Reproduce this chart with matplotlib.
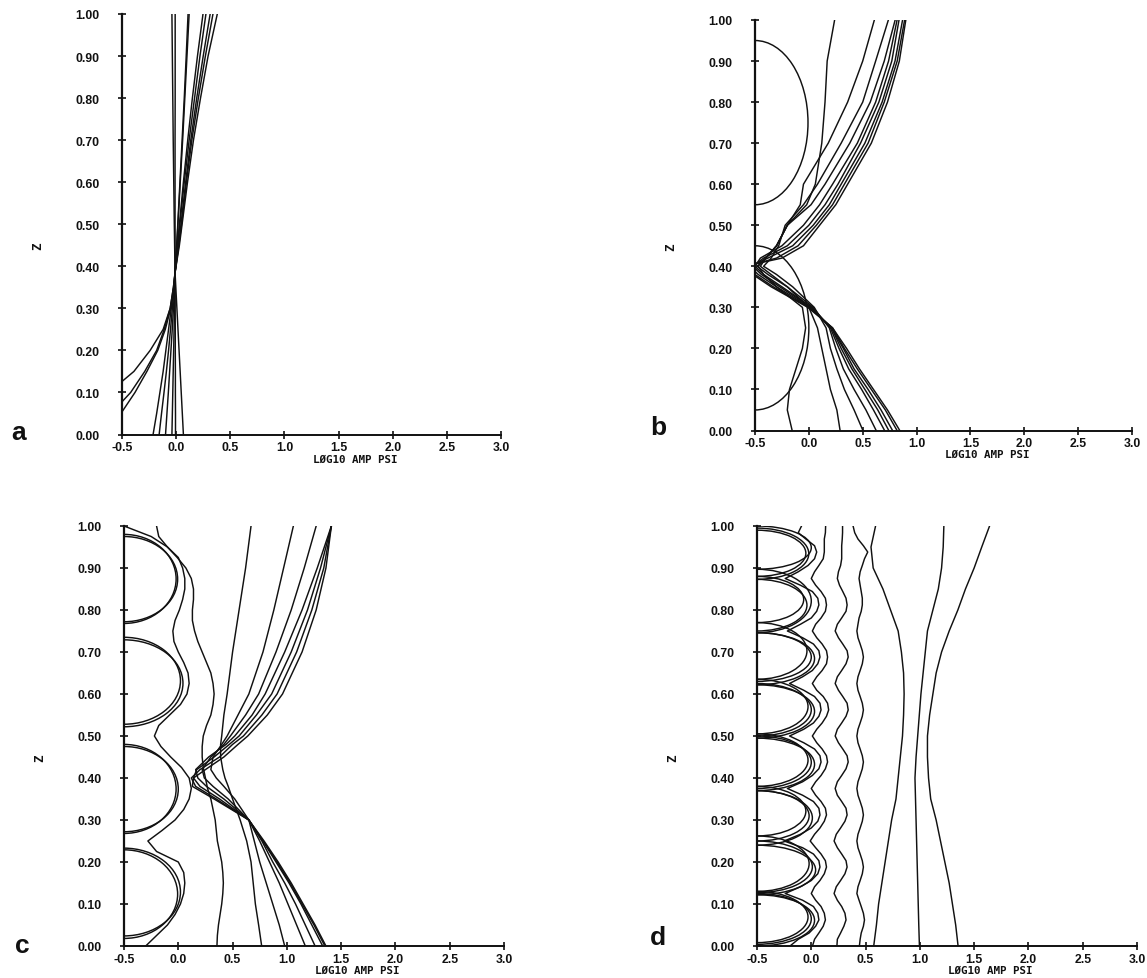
import matplotlib
matplotlib.use("Agg")
import matplotlib.pyplot as plt
from matplotlib.patches import Arc

# ---------------- data ----------------
XTICKS = [-0.5, 0.0, 0.5, 1.0, 1.5, 2.0, 2.5, 3.0]
XTICKLABELS = ["-0.5", "0.0", "0.5", "1.0", "1.5", "2.0", "2.5", "3.0"]
YTICKS = [0.0, 0.1, 0.2, 0.3, 0.4, 0.5, 0.6, 0.7, 0.8, 0.9, 1.0]
YTICKLABELS = ["0.00", "0.10", "0.20", "0.30", "0.40", "0.50", "0.60", "0.70", "0.80", "0.90", "1.00"]
XLABEL = "LØG10 AMP PSI"
YLABEL = "Z"
PANEL_LETTERS = ["a", "b", "c", "d"]

# panel a : x (log10 amp) at the z levels ZA
ZA = [0.0, 0.05, 0.1, 0.15, 0.2, 0.25, 0.3, 0.35, 0.385, 0.45, 0.5, 0.6, 0.7, 0.8, 0.9, 1.0]
A_CURVES = [
    [-1.0, -0.8, -0.62, -0.39, -0.24, -0.12, -0.055, -0.025, -0.01, 0.03, 0.055, 0.105, 0.16, 0.225, 0.295, 0.38],
    [-0.8, -0.6, -0.42, -0.29, -0.18, -0.11, -0.055, -0.025, -0.01, 0.025, 0.05, 0.095, 0.145, 0.205, 0.27, 0.34],
    [-0.65, -0.51, -0.38, -0.27, -0.17, -0.1, -0.05, -0.02, -0.01, 0.022, 0.045, 0.088, 0.135, 0.19, 0.25, 0.314],
    [-0.213, -0.18, -0.15, -0.12, -0.095, -0.07, -0.045, -0.022, -0.01, 0.015, 0.035, 0.075, 0.12, 0.17, 0.22, 0.275],
    [-0.157, -0.135, -0.112, -0.09, -0.07, -0.052, -0.035, -0.018, -0.01, 0.012, 0.03, 0.067, 0.107, 0.15, 0.197, 0.248],
    [-0.098, -0.085, -0.072, -0.06, -0.048, -0.036, -0.025, -0.014, -0.01, 0.005, 0.017, 0.038, 0.06, 0.08, 0.1, 0.12],
    [-0.039, -0.035, -0.031, -0.027, -0.023, -0.019, -0.015, -0.012, -0.01, 0.005, 0.015, 0.035, 0.055, 0.075, 0.093, 0.11],
    [0.067, 0.057, 0.047, 0.037, 0.027, 0.017, 0.007, -0.003, -0.01, -0.014, -0.017, -0.022, -0.027, -0.031, -0.035, -0.039],
    [-0.006, -0.006, -0.007, -0.007, -0.008, -0.008, -0.009, -0.009, -0.01, -0.01, -0.01, -0.01, -0.01, -0.009, -0.009, -0.009],
]

# panel b
ZB = [0.0, 0.05, 0.1, 0.15, 0.2, 0.25, 0.3, 0.35, 0.38, 0.4, 0.42, 0.45, 0.5, 0.55, 0.6, 0.7, 0.8, 0.9, 1.0]
B_CURVES = [
    [0.29, 0.26, 0.2, 0.16, 0.12, 0.08, 0.0, -0.2, -0.35, -0.45, -0.4, -0.3, -0.2, -0.08, -0.05, 0.18, 0.36, 0.5, 0.608],
    [0.502, 0.42, 0.33, 0.26, 0.2, 0.16, 0.05, -0.15, -0.3, -0.42, -0.35, -0.28, -0.22, -0.05, 0.08, 0.3, 0.5, 0.62, 0.738],
    [0.625, 0.53, 0.42, 0.32, 0.25, 0.19, 0.04, -0.2, -0.38, -0.48, -0.4, -0.3, -0.2, 0.02, 0.15, 0.38, 0.57, 0.7, 0.801],
    [0.703, 0.6, 0.49, 0.37, 0.28, 0.2, 0.03, -0.25, -0.42, -0.5, -0.45, -0.25, -0.05, 0.1, 0.22, 0.45, 0.62, 0.74, 0.819],
    [0.742, 0.64, 0.52, 0.4, 0.3, 0.21, 0.02, -0.27, -0.44, -0.52, -0.42, -0.2, 0.0, 0.15, 0.27, 0.48, 0.65, 0.77, 0.837],
    [0.777, 0.67, 0.55, 0.42, 0.32, 0.21, 0.01, -0.3, -0.47, -0.55, -0.38, -0.15, 0.04, 0.19, 0.3, 0.52, 0.68, 0.8, 0.87],
    [0.819, 0.71, 0.58, 0.45, 0.33, 0.22, 0.0, -0.33, -0.5, -0.58, -0.3, -0.1, 0.07, 0.22, 0.33, 0.55, 0.7, 0.82, 0.889],
    [0.844, 0.73, 0.6, 0.47, 0.35, 0.22, -0.01, -0.35, -0.52, -0.6, -0.25, -0.05, 0.1, 0.25, 0.36, 0.58, 0.73, 0.84, 0.9],
    [-0.155, -0.2, -0.18, -0.12, -0.06, -0.03, -0.06, -0.3, -0.42, -0.47, -0.4, -0.3, -0.2, -0.02, 0.06, 0.12, 0.15, 0.17, 0.239],
]
# half-circle loops on the left axis: lower z, upper z, right-most x
B_LOOP_LO = [0.05, 0.55]
B_LOOP_HI = [0.45, 0.95]
B_LOOP_PEAK = [0.0, -0.008]

# panel c
ZC = [0.0, 0.05, 0.1, 0.15, 0.2, 0.25, 0.3, 0.35, 0.38, 0.4, 0.42, 0.45, 0.48, 0.5, 0.55, 0.6, 0.7, 0.8, 0.9, 1.0]
C_CURVES = [
    [0.768, 0.74, 0.71, 0.69, 0.67, 0.63, 0.57, 0.5, 0.46, 0.43, 0.41, 0.39, 0.39, 0.4, 0.42, 0.45, 0.5, 0.56, 0.62, 0.67],
    [0.98, 0.93, 0.87, 0.81, 0.75, 0.7, 0.65, 0.52, 0.42, 0.35, 0.3, 0.32, 0.4, 0.45, 0.55, 0.65, 0.78, 0.88, 0.97, 1.06],
    [1.17, 1.09, 1.01, 0.93, 0.84, 0.75, 0.65, 0.46, 0.32, 0.24, 0.22, 0.3, 0.42, 0.48, 0.62, 0.74, 0.9, 1.04, 1.16, 1.27],
    [1.26, 1.17, 1.08, 0.98, 0.87, 0.77, 0.65, 0.42, 0.26, 0.18, 0.16, 0.28, 0.44, 0.52, 0.68, 0.8, 0.98, 1.14, 1.28, 1.41],
    [1.33, 1.23, 1.13, 1.02, 0.9, 0.78, 0.65, 0.38, 0.2, 0.14, 0.17, 0.33, 0.47, 0.56, 0.72, 0.86, 1.04, 1.19, 1.31, 1.41],
    [1.36, 1.26, 1.15, 1.04, 0.92, 0.79, 0.65, 0.35, 0.16, 0.12, 0.2, 0.38, 0.5, 0.6, 0.77, 0.91, 1.09, 1.23, 1.34, 1.41],
    [1.35, 1.25, 1.14, 1.03, 0.91, 0.78, 0.65, 0.33, 0.13, 0.14, 0.25, 0.42, 0.55, 0.64, 0.82, 0.96, 1.14, 1.27, 1.36, 1.41],
]
ZCW = [0.0, 0.025, 0.05, 0.075, 0.1, 0.125, 0.15, 0.175, 0.2, 0.225, 0.25, 0.275, 0.3, 0.325,
       0.35, 0.375, 0.4, 0.425, 0.45, 0.475, 0.5, 0.525, 0.55, 0.575, 0.6, 0.625, 0.65, 0.675,
       0.7, 0.725, 0.75, 0.775, 0.8, 0.825, 0.85, 0.875, 0.9, 0.925, 0.95, 0.975, 1.0]
C_WIGGLES = [
    [0.356, 0.36, 0.37, 0.385, 0.4, 0.41, 0.415, 0.41, 0.4, 0.38, 0.36, 0.35, 0.34, 0.32,
     0.3, 0.27, 0.25, 0.23, 0.22, 0.22, 0.23, 0.26, 0.3, 0.32, 0.33, 0.32, 0.3, 0.26,
     0.22, 0.18, 0.15, 0.13, 0.13, 0.14, 0.14, 0.12, 0.07, -0.01, -0.1, -0.18, -0.2],
    [-0.3, -0.2, -0.1, -0.03, 0.02, 0.05, 0.06, 0.05, 0.0, -0.2, -0.28, -0.15, -0.03, 0.05,
     0.1, 0.12, 0.1, 0.03, -0.07, -0.16, -0.22, -0.18, -0.08, 0.02, 0.08, 0.1, 0.09, 0.05,
     0.0, -0.04, -0.05, -0.03, 0.01, 0.04, 0.06, 0.06, 0.04, 0.0, -0.1, -0.25, -0.5],
]
C_ARC_LO = [[0.018, 0.272, 0.522, 0.772], [0.024, 0.268, 0.528, 0.768]]
C_ARC_HI = [[0.229, 0.475, 0.729, 0.975], [0.233, 0.48, 0.735, 0.98]]
C_ARC_PEAK = [[-0.006, 0.0, 0.043, -0.006], [0.02, -0.02, 0.02, -0.02]]

# panel d
ZD = [0.0, 0.016, 0.031, 0.047, 0.062, 0.078, 0.094, 0.109, 0.125, 0.141, 0.156, 0.172, 0.188,
      0.203, 0.219, 0.234, 0.25, 0.266, 0.281, 0.297, 0.312, 0.328, 0.344, 0.359, 0.375, 0.391,
      0.406, 0.422, 0.438, 0.453, 0.469, 0.484, 0.5, 0.516, 0.531, 0.547, 0.562, 0.578, 0.594,
      0.609, 0.625, 0.641, 0.656, 0.672, 0.688, 0.703, 0.719, 0.734, 0.75, 0.766, 0.781, 0.797,
      0.812, 0.828, 0.844, 0.859, 0.875, 0.891, 0.906, 0.922, 0.938, 0.953, 0.969, 0.984, 1.0]
D_WIGGLES = [
    [-0.196, -0.12, -0.02, 0.04, 0.07, 0.06, 0.02, -0.08,
     -0.24, -0.1, 0.0, 0.06, 0.08, 0.07, 0.02, -0.08,
     -0.25, -0.1, 0.0, 0.06, 0.08, 0.07, 0.02, -0.08,
     -0.22, -0.08, 0.01, 0.07, 0.09, 0.08, 0.03, -0.07,
     -0.2, -0.07, 0.02, 0.07, 0.09, 0.08, 0.03, -0.07,
     -0.2, -0.08, 0.01, 0.06, 0.08, 0.07, 0.02, -0.08,
     -0.22, -0.1, 0.0, 0.05, 0.07, 0.06, 0.01, -0.1,
     -0.24, -0.12, -0.03, 0.03, 0.05, 0.03, -0.05, -0.12,
     -0.09],
    [0.011, 0.03, 0.07, 0.11, 0.13, 0.12, 0.09, 0.04,
     0.0, 0.03, 0.08, 0.12, 0.14, 0.13, 0.09, 0.04,
     -0.01, 0.03, 0.08, 0.12, 0.14, 0.13, 0.09, 0.04,
     0.0, 0.04, 0.09, 0.13, 0.15, 0.14, 0.1, 0.05,
     0.01, 0.05, 0.1, 0.14, 0.16, 0.15, 0.11, 0.05,
     0.01, 0.05, 0.1, 0.14, 0.15, 0.14, 0.1, 0.05,
     0.01, 0.04, 0.09, 0.13, 0.14, 0.13, 0.09, 0.04,
     0.0, 0.03, 0.07, 0.11, 0.12, 0.12, 0.12, 0.13,
     0.132],
    [0.236, 0.24, 0.27, 0.3, 0.32, 0.31, 0.28, 0.24,
     0.21, 0.23, 0.27, 0.31, 0.33, 0.32, 0.28, 0.24,
     0.21, 0.23, 0.27, 0.31, 0.33, 0.32, 0.28, 0.24,
     0.22, 0.24, 0.28, 0.32, 0.34, 0.33, 0.29, 0.25,
     0.22, 0.24, 0.28, 0.32, 0.34, 0.33, 0.29, 0.25,
     0.22, 0.24, 0.28, 0.32, 0.34, 0.33, 0.29, 0.25,
     0.22, 0.24, 0.28, 0.32, 0.33, 0.32, 0.29, 0.26,
     0.24, 0.25, 0.27, 0.28, 0.28, 0.28, 0.285, 0.288,
     0.288],
    [0.443, 0.45, 0.46, 0.48, 0.49, 0.48, 0.46, 0.44,
     0.42, 0.43, 0.45, 0.47, 0.48, 0.47, 0.45, 0.43,
     0.42, 0.43, 0.45, 0.47, 0.48, 0.47, 0.45, 0.43,
     0.42, 0.43, 0.45, 0.47, 0.48, 0.47, 0.45, 0.43,
     0.42, 0.43, 0.45, 0.47, 0.48, 0.47, 0.45, 0.43,
     0.42, 0.43, 0.45, 0.47, 0.48, 0.47, 0.45, 0.43,
     0.42, 0.43, 0.44, 0.46, 0.47, 0.47, 0.46, 0.45,
     0.44, 0.45, 0.47, 0.49, 0.52, 0.48, 0.43, 0.4,
     0.385],
]
ZDS = [0.0, 0.05, 0.1, 0.15, 0.2, 0.25, 0.3, 0.35, 0.4, 0.45, 0.5, 0.55, 0.6, 0.65, 0.7, 0.75,
       0.8, 0.85, 0.9, 0.95, 1.0]
D_SMOOTH = [
    [0.575, 0.6, 0.62, 0.65, 0.68, 0.71, 0.74, 0.78, 0.8, 0.82, 0.84, 0.85, 0.855, 0.85, 0.83, 0.8,
     0.73, 0.66, 0.57, 0.55, 0.592],
    [0.996, 0.99, 0.985, 0.98, 0.975, 0.97, 0.965, 0.96, 0.955, 0.965, 0.98, 0.995, 1.01, 1.03,
     1.05, 1.07, 1.12, 1.17, 1.2, 1.215, 1.221],
    [1.352, 1.33, 1.3, 1.27, 1.23, 1.19, 1.15, 1.1, 1.08, 1.07, 1.07, 1.09, 1.12, 1.15, 1.2, 1.27,
     1.35, 1.42, 1.5, 1.57, 1.642],
]
D_ARC_LO = [[0.004, 0.127, 0.25, 0.375, 0.5, 0.63, 0.75, 0.873],
            [0.0, 0.122, 0.24, 0.37, 0.495, 0.622, 0.746, 0.897],
            [0.008, 0.13, 0.262, 0.38, 0.505, 0.635, 0.77, 0.88]]
D_ARC_HI = [[0.125, 0.25, 0.37, 0.5, 0.625, 0.746, 0.873, 0.995],
            [0.122, 0.24, 0.37, 0.495, 0.622, 0.746, 0.897, 1.0],
            [0.13, 0.262, 0.38, 0.505, 0.635, 0.77, 0.88, 0.99]]
D_ARC_PEAK = [[0.0, 0.01, -0.02, 0.0, 0.0, 0.0, -0.04, -0.023],
              [0.03, 0.04, 0.01, 0.03, 0.03, 0.03, 0.0, 0.0],
              [-0.03, -0.02, -0.05, -0.03, -0.03, -0.04, -0.07, -0.05]]

# ---------------- figure ----------------
W, H = 1147, 979
fig = plt.figure(figsize=(W / 100, H / 100), dpi=100)

# axes boxes in pixels: left, top, right, bottom
BOXES = [(122, 15, 501, 435.5), (755, 21, 1132, 431.5), (124, 527, 504, 947), (757, 527, 1137, 947)]
LETTER_POS = [(19, 433), (658, 428), (22, 946), (658, 938)]

LW = 1.05
INK = "#111111"


def make_axes(box):
    l, t, r, b = box
    ax = fig.add_axes([l / W, 1 - b / H, (r - l) / W, (b - t) / H])
    ax.set_xlim(-0.5, 3.0)
    ax.set_ylim(0.0, 1.0)
    ax.patch.set_alpha(0)
    for s in ("top", "right"):
        ax.spines[s].set_visible(False)
    ax.spines["left"].set_linewidth(1.6)
    ax.spines["bottom"].set_linewidth(1.4)
    ax.spines["left"].set_color(INK)
    ax.spines["bottom"].set_color(INK)
    ax.set_xticks(XTICKS)
    ax.set_xticklabels(XTICKLABELS, fontfamily="Liberation Sans", fontweight="bold", fontsize=8.8)
    ax.set_yticks(YTICKS)
    ax.set_yticklabels(YTICKLABELS, fontfamily="Liberation Sans", fontweight="bold", fontsize=8.8)
    ax.tick_params(axis="both", direction="inout", length=6, width=1.2, color=INK, labelcolor=INK)
    ax.tick_params(axis="y", pad=13)
    ax.tick_params(axis="x", pad=2)
    ax.set_xlabel(XLABEL, fontfamily="DejaVu Sans Mono", fontweight="bold", fontsize=7.8, color=INK)
    ax.xaxis.set_label_coords(0.615, -0.045)
    ax.set_ylabel(YLABEL, fontfamily="DejaVu Sans Mono", fontweight="bold", fontsize=9, color=INK)
    ax.yaxis.set_label_coords(-0.205, 0.45)
    return ax


def draw_arcs(ax, los, his, peaks):
    for lo, hi, pk in zip(los, his, peaks):
        arc = Arc((-0.5, (lo + hi) / 2), width=2 * (pk + 0.5), height=hi - lo,
                  theta1=-90, theta2=90, lw=LW, color=INK)
        ax.add_patch(arc)


axes = [make_axes(b) for b in BOXES]

# panel a
for xs in A_CURVES:
    axes[0].plot(xs, ZA, color=INK, lw=LW)

# panel b
for xs in B_CURVES:
    axes[1].plot(xs, ZB, color=INK, lw=LW)
draw_arcs(axes[1], B_LOOP_LO, B_LOOP_HI, B_LOOP_PEAK)

# panel c
for xs in C_CURVES:
    axes[2].plot(xs, ZC, color=INK, lw=LW)
for xs in C_WIGGLES:
    axes[2].plot(xs, ZCW, color=INK, lw=LW)
for los, his, pks in zip(C_ARC_LO, C_ARC_HI, C_ARC_PEAK):
    draw_arcs(axes[2], los, his, pks)

# panel d
for xs in D_WIGGLES:
    axes[3].plot(xs, ZD, color=INK, lw=LW)
for xs in D_SMOOTH:
    axes[3].plot(xs, ZDS, color=INK, lw=LW)
for los, his, pks in zip(D_ARC_LO, D_ARC_HI, D_ARC_PEAK):
    draw_arcs(axes[3], los, his, pks)

for (px, py), letter in zip(LETTER_POS, PANEL_LETTERS):
    fig.text(px / W, 1 - py / H, letter, fontfamily="Liberation Sans", fontweight="bold",
             fontsize=19, ha="center", va="center", color=INK)

fig.savefig("out.png", dpi=100)
